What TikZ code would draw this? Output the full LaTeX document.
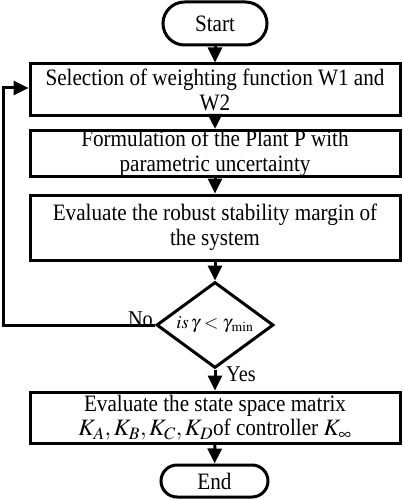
\documentclass[tikz,border=0pt]{standalone}
\usepackage{mathptmx}
\usepackage{fontspec}
\setmainfont[FakeStretch=0.9]{Liberation Serif}
\usetikzlibrary{shapes.misc,shapes.geometric,arrows.meta}
\begin{document}
\begin{tikzpicture}[x=1pt,y=-1pt,
  every node/.style={font=\fontsize{23.5}{24.5}\selectfont},
  procbox/.style={draw,line width=3pt,minimum width=370pt,align=center,inner sep=0pt},
  term/.style={draw,line width=3pt,rounded rectangle,inner sep=0pt},
  flow/.style={line width=3pt,-{Triangle[width=14pt,length=15pt]}},
  lbl/.style={inner sep=0pt,font=\fontsize{22.5}{24}\selectfont}]
\useasboundingbox (0,0) rectangle (402,500);
\node[term,minimum width=104pt,minimum height=43pt] (start) at (215,23.5) {Start};
\node[procbox,minimum height=52pt] (b1) at (215,90) {Selection of weighting function W1 and\\W2};
\node[procbox,minimum height=43pt] (b2) at (215,153.5) {Formulation of the Plant P with\\parametric uncertainty};
\node[procbox,minimum height=65pt] (b3) at (215,227.5) {Evaluate the robust stability margin of\\the system};
\node[draw,diamond,aspect=1.36,line width=3pt,minimum width=117pt,minimum height=86pt,inner sep=0pt,font=\fontsize{18.5}{22}\selectfont] (dec) at (215,325) {$\mathit{is}\,\gamma<\gamma_{\,\min}$};
\node[procbox,minimum height=51pt] (b4) at (215,417.5) {Evaluate the state space matrix\\$K_A,K_B,K_C,K_D$of controller $K_\infty$};
\node[term,minimum width=107pt,minimum height=32pt] (end) at (214.5,481) {End};
\draw[flow] (start) -- (b1);
\draw[flow] (b1) -- (b2);
\draw[flow] (b2) -- (b3);
\draw[flow] (b3) -- (dec);
\draw[flow] (dec) -- (b4);
\draw[flow] (b4) -- (end);
\coordinate (fb) at (3,88);
\draw[flow] (dec.west) -- (dec.west -| fb) -- (fb) -- (fb -| b1.west);
\node[lbl,anchor=south east] (no) at (153,327) {No};
\node[lbl,anchor=west] (yes) at (226,374) {Yes};
\end{tikzpicture}
\end{document}
